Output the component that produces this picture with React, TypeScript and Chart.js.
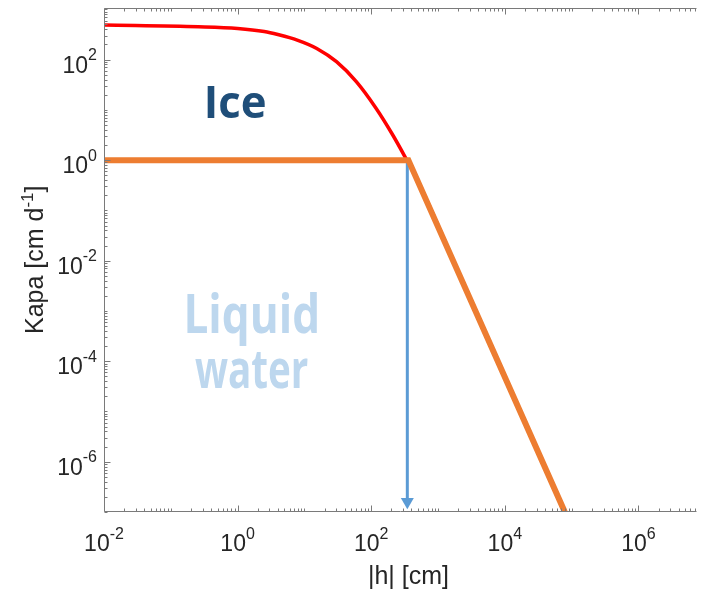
import React, { useEffect, useRef } from "react";
import { Chart, registerables } from "chart.js";

Chart.register(...registerables);

// ---- data ----
const liquidH = [0.01, 360, 79000];
const liquidK = [1, 1, 1e-7];

const iceH = [0.01, 0.26, 1.0, 2.5, 4.0, 7.8, 15.3, 30.2, 59.8, 118, 208, 328, 500, 3160, 89000];
const iceK = [486, 450, 417, 363, 316, 245, 167, 91, 36.5, 10.8, 3.24, 1.1, 0.38, 0.0015, 6.6e-8];

const arrowH = [347, 347];
const arrowK = [1, 1.6e-7];

const xTickExponents = [-2, 0, 2, 4, 6];
const yTickExponents = [-6, -4, -2, 0, 2];

const xMin = 0.01;
const xMax = Math.pow(10, 6.869);
const yMin = 1e-7;
const yMax = Math.pow(10, 3.037);

const xTitle = "|h| [cm]";
const yTitleMain = "Kapa [cm d";
const yTitleSup = "-1";
const yTitleEnd = "]";

const iceLabel = "Ice";
const liquidLabel1 = "Liquid";
const liquidLabel2 = "water";

// ---- styles ----
const AXIS_COLOR = "#7a7a7a";
const TEXT_COLOR = "#262626";
const SANS = '"Liberation Sans", Arial, sans-serif';
const ANNOT = '"Open Sans", "Noto Sans", sans-serif';

function pts(xs: number[], ys: number[]) {
  return xs.map((x, i) => ({ x, y: ys[i] }));
}

function drawPow(ctx: CanvasRenderingContext2D, exp: number, x: number, baseline: number, align: "right" | "center") {
  const main = "10";
  const sup = String(exp);
  ctx.font = `23px ${SANS}`;
  const wm = ctx.measureText(main).width;
  ctx.font = `16px ${SANS}`;
  const ws = ctx.measureText(sup).width;
  const total = wm + ws;
  const start = align === "right" ? x - total : x - total / 2;
  ctx.textAlign = "left";
  ctx.textBaseline = "alphabetic";
  ctx.fillStyle = TEXT_COLOR;
  ctx.font = `23px ${SANS}`;
  ctx.fillText(main, start, baseline);
  ctx.font = `16px ${SANS}`;
  ctx.fillText(sup, start + wm, baseline - 12.5);
}

function drawFit(ctx: CanvasRenderingContext2D, text: string, font: string, color: string, left: number, right: number, baseline: number) {
  ctx.save();
  ctx.font = font;
  ctx.textAlign = "left";
  ctx.textBaseline = "alphabetic";
  const m = ctx.measureText(text);
  const ink = m.actualBoundingBoxLeft + m.actualBoundingBoxRight;
  const sx = (right - left) / ink;
  ctx.translate(left, baseline);
  ctx.scale(sx, 1);
  ctx.fillStyle = color;
  ctx.fillText(text, m.actualBoundingBoxLeft, 0);
  ctx.restore();
}

const axesPlugin = {
  id: "matlabAxes",
  afterDraw(chart: any) {
    const ctx: CanvasRenderingContext2D = chart.ctx;
    const a = chart.chartArea;
    const xs = chart.scales.x;
    const ys = chart.scales.y;
    ctx.save();

    // annotations
    drawFit(ctx, iceLabel, `bold 45px ${ANNOT}`, "#1F4E79", 207.7, 265, 118.3);
    drawFit(ctx, liquidLabel1, `bold 54px ${ANNOT}`, "#BDD7EE", 186.7, 316.7, 333);
    drawFit(ctx, liquidLabel2, `bold 54px ${ANNOT}`, "#BDD7EE", 195, 308, 388);

    const L = Math.round(a.left) + 0.5;
    const T = Math.round(a.top) + 0.5;
    const B = Math.round(a.bottom) - 0.5;
    const R = a.right;

    ctx.strokeStyle = AXIS_COLOR;
    ctx.lineWidth = 1;
    ctx.beginPath();
    ctx.moveTo(R, T);
    ctx.lineTo(L, T);
    ctx.lineTo(L, B);
    ctx.lineTo(R, B);
    ctx.stroke();

    // ticks
    ctx.beginPath();
    const lxMin = Math.floor(Math.log10(xMin));
    const lxMax = Math.ceil(Math.log10(xMax));
    for (let k = lxMin; k <= lxMax; k++) {
      for (let m = 1; m <= 9; m++) {
        const v = m * Math.pow(10, k);
        if (v < xMin * 0.999 || v > xMax) continue;
        const major = m === 1 && xTickExponents.includes(k);
        const len = major ? 6 : 3;
        const px = Math.round(xs.getPixelForValue(v)) + 0.5;
        ctx.moveTo(px, B);
        ctx.lineTo(px, B - len);
        ctx.moveTo(px, T);
        ctx.lineTo(px, T + len);
      }
    }
    const lyMin = Math.floor(Math.log10(yMin));
    const lyMax = Math.ceil(Math.log10(yMax));
    for (let k = lyMin; k <= lyMax; k++) {
      for (let m = 1; m <= 9; m++) {
        const v = m * Math.pow(10, k);
        if (v < yMin * 0.999 || v > yMax) continue;
        const major = m === 1 && yTickExponents.includes(k);
        const len = major ? 6 : 3;
        const py = Math.round(ys.getPixelForValue(v)) + 0.5;
        ctx.moveTo(L, py);
        ctx.lineTo(L + len, py);
      }
    }
    ctx.stroke();

    // tick labels
    for (const e of xTickExponents) {
      const px = xs.getPixelForValue(Math.pow(10, e));
      drawPow(ctx, e, px, a.bottom + 39, "center");
    }
    for (const e of yTickExponents) {
      const py = ys.getPixelForValue(Math.pow(10, e));
      drawPow(ctx, e, a.left - 7, py + 13, "right");
    }

    // x title
    ctx.fillStyle = TEXT_COLOR;
    ctx.font = `25px ${SANS}`;
    ctx.textAlign = "center";
    ctx.textBaseline = "alphabetic";
    ctx.fillText(xTitle, 408.5, 584);

    // y title
    ctx.save();
    ctx.translate(43, (a.top + a.bottom) / 2);
    ctx.rotate(-Math.PI / 2);
    ctx.font = `25px ${SANS}`;
    const w1 = ctx.measureText(yTitleMain).width;
    const w3 = ctx.measureText(yTitleEnd).width;
    ctx.font = `17px ${SANS}`;
    const w2 = ctx.measureText(yTitleSup).width;
    const tot = w1 + w2 + w3;
    let sx = -tot / 2;
    ctx.textAlign = "left";
    ctx.font = `25px ${SANS}`;
    ctx.fillText(yTitleMain, sx, 0);
    sx += w1;
    ctx.font = `17px ${SANS}`;
    ctx.fillText(yTitleSup, sx, -10);
    sx += w2;
    ctx.font = `25px ${SANS}`;
    ctx.fillText(yTitleEnd, sx, 0);
    ctx.restore();

    ctx.restore();
  },
};

export default function App() {
  const ref = useRef<HTMLCanvasElement | null>(null);
  useEffect(() => {
    if (!ref.current) return;
    const chart = new Chart(ref.current, {
      type: "line",
      data: {
        datasets: [
          {
            label: "liquid",
            data: pts(liquidH, liquidK),
            borderColor: "#ED7D31",
            borderWidth: 6,
            pointRadius: 0,
            tension: 0,
            clip: 0,
            borderCapStyle: "butt",
            borderJoinStyle: "miter",
          },
          {
            label: "arrow",
            data: pts(arrowH, arrowK),
            borderColor: "#5B9BD5",
            backgroundColor: "#5B9BD5",
            borderWidth: 3,
            pointRadius: [0, 7.5],
            pointHoverRadius: 0,
            pointStyle: "triangle",
            pointRotation: 180,
            pointBackgroundColor: "#5B9BD5",
            pointBorderColor: "#5B9BD5",
            pointBorderWidth: 0,
            tension: 0,
            clip: 0,
          },
          {
            label: "ice",
            data: pts(iceH, iceK),
            borderColor: "#FF0000",
            borderWidth: 3.5,
            pointRadius: 0,
            cubicInterpolationMode: "monotone",
            clip: 0,
          },
        ],
      },
      options: {
        responsive: false,
        animation: false,
        devicePixelRatio: 1,
        layout: { padding: { top: 6, left: 0, right: 0, bottom: 0 } },
        plugins: { legend: { display: false }, tooltip: { enabled: false } },
        events: [],
        scales: {
          x: {
            type: "logarithmic",
            min: xMin,
            max: xMax,
            grid: { display: false },
            border: { display: false },
            ticks: { display: false },
            afterFit: (s: any) => {
              s.height = 82;
            },
          },
          y: {
            type: "logarithmic",
            min: yMin,
            max: yMax,
            grid: { display: false },
            border: { display: false },
            ticks: { display: false },
            afterFit: (s: any) => {
              s.width = 104;
            },
          },
        },
      } as any,
      plugins: [axesPlugin],
    });
    return () => chart.destroy();
  }, []);
  return (
    <div style={{ position: "absolute", left: 0, top: 0, width: 704, height: 594 }}>
      <canvas ref={ref} width={704} height={594} style={{ display: "block" }} />
    </div>
  );
}
